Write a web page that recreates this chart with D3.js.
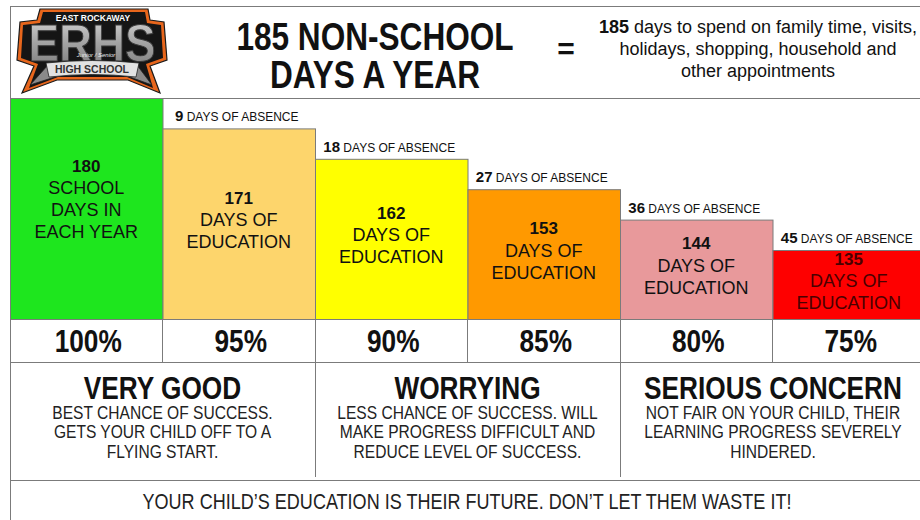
<!DOCTYPE html>
<html>
<head>
<meta charset="utf-8">
<script src="https://cdn.jsdelivr.net/npm/d3@7/dist/d3.min.js"></script>
<style>
  html, body { margin: 0; padding: 0; background: #fff; }
  svg { display: block; }
  .reg { font-family: "Liberation Sans", Arial, sans-serif; }
</style>
</head>
<body>
<svg id="chart" width="920" height="520"></svg>
<script>
// ---------- DATA ----------
const barKeys      = ["b100", "b95", "b90", "b85", "b80", "b75"];
const educationDays = [180, 171, 162, 153, 144, 135];
const absenceDays   = [0, 9, 18, 27, 36, 45];
const attendance    = ["100%", "95%", "90%", "85%", "80%", "75%"];
const barColors     = ["#1ee61e", "#fdd56c", "#ffff00", "#ff9900", "#e8999b", "#fe0000"];
const barTextColors = ["#111", "#111", "#111", "#111", "#111", "#4a0000"];
const firstBarLines = ["SCHOOL", "DAYS IN", "EACH YEAR"];
const otherBarLines = ["DAYS OF", "EDUCATION"];
const categories    = ["VERY GOOD", "WORRYING", "SERIOUS CONCERN"];
const categoryDescriptions = [
  ["BEST CHANCE OF SUCCESS.", "GETS YOUR CHILD OFF TO A", "FLYING START."],
  ["LESS CHANCE OF SUCCESS.  WILL", "MAKE PROGRESS DIFFICULT AND", "REDUCE LEVEL OF SUCCESS."],
  ["NOT FAIR ON YOUR CHILD, THEIR", "LEARNING PROGRESS SEVERELY", "HINDERED."]
];
const titleLines   = ["185 NON-SCHOOL", "DAYS A YEAR"];
const nonSchoolDays = 185;
const sideTextLines = [" days to spend on family time, visits,", "holidays, shopping, household and", "other appointments"];
const footerText   = "YOUR CHILD\u2019S EDUCATION IS THEIR FUTURE.  DON\u2019T LET THEM WASTE IT!";

// ---------- LAYOUT ----------
const svg = d3.select("#chart");
const W = 920, H = 520;
const frameLeft = 10, frameTop = 6, headerBottom = 98;
const barBottom = 319, pctBottom = 362, catBottom = 480;
const lineColor = "#7b7b7b";

// condensed look: compress glyphs horizontally around the text's anchor x
function narrowText(sel, f) {
  sel.each(function() {
    const xx = +this.getAttribute("x") || 0;
    this.setAttribute("transform", `translate(${xx},0) scale(${f || 0.82},1) translate(${-xx},0)`);
  });
}

const x = d3.scaleBand().domain(barKeys).range([frameLeft, 925]).paddingInner(0).paddingOuter(0);
const y = d3.scaleLinear().domain([180, 135]).range([headerBottom, 250]);

const bars = barKeys.map((k, i) => ({
  key: k, edu: educationDays[i], abs: absenceDays[i], pct: attendance[i],
  color: barColors[i], tcolor: barTextColors[i], i
}));

// ---------- BARS ----------
svg.append("g").selectAll("rect").data(bars).join("rect")
  .attr("x", d => x(d.key) + 0.5)
  .attr("y", d => y(d.edu) + 0.5)
  .attr("width", x.bandwidth())
  .attr("height", d => barBottom - y(d.edu))
  .attr("fill", d => d.color)
  .attr("stroke", lineColor)
  .attr("stroke-width", 1);

// bar text
const barText = svg.append("g").selectAll("text").data(bars).join("text")
  .attr("class", "reg")
  .attr("text-anchor", "middle")
  .attr("fill", d => d.tcolor);
barText.each(function(d) {
  const lines = d.i === 0 ? firstBarLines : otherBarLines;
  const n = lines.length + 1;
  const lh = 22;
  const cx = x(d.key) + x.bandwidth() / 2;
  const cy = (y(d.edu) + barBottom) / 2 - (d.i === 0 ? 10 : 4);
  const y0 = cy - (n - 1) * lh / 2;
  const t = d3.select(this);
  t.append("tspan").attr("x", cx).attr("y", y0 + 6).attr("font-weight", "bold").attr("font-size", 17).text(d.edu);
  lines.forEach((l, j) => {
    t.append("tspan").attr("x", cx).attr("y", y0 + (j + 1) * lh + 6.5).attr("font-size", 18).text(l);
  });
});

// absence labels
const absText = svg.append("g").selectAll("text").data(bars.filter(d => d.abs > 0)).join("text")
  .attr("class", "reg")
  .attr("text-anchor", "middle")
  .attr("fill", "#111")
  .attr("x", d => x(d.key) + x.bandwidth() / 2 - 2)
  .attr("y", d => y(d.edu) - 7);
absText.append("tspan").attr("font-weight", "bold").attr("font-size", 15).text(d => d.abs);
absText.append("tspan").attr("font-size", 12).text(" DAYS OF ABSENCE");

// ---------- PERCENT ROW ----------
const grid = svg.append("g").attr("stroke", lineColor).attr("stroke-width", 1).attr("shape-rendering", "crispEdges");
grid.append("line").attr("x1", frameLeft).attr("x2", W).attr("y1", pctBottom).attr("y2", pctBottom);
grid.selectAll(".pv").data(barKeys.slice(1)).join("line")
  .attr("x1", d => x(d)).attr("x2", d => x(d)).attr("y1", barBottom).attr("y2", pctBottom);

svg.append("g").selectAll("text").data(bars).join("text")
  .attr("class", "reg")
  .attr("text-anchor", "middle")
  .attr("font-weight", "bold")
  .attr("font-size", 32)
  .attr("fill", "#111")
  .attr("x", d => x(d.key) + x.bandwidth() / 2 + 2)
  .attr("y", barBottom + 33)
  .text(d => d.pct)
  .call(narrowText, 0.82);

// ---------- CATEGORY ROW ----------
const catX = categories.map((c, i) => ({
  name: c, desc: categoryDescriptions[i],
  x0: x(barKeys[i * 2]),
  x1: i === 2 ? 926 : x(barKeys[i * 2 + 1]) + x.bandwidth()
}));
grid.selectAll(".cv").data(catX.slice(1)).join("line")
  .attr("x1", d => d.x0).attr("x2", d => d.x0).attr("y1", pctBottom).attr("y2", catBottom - 3);
grid.append("line").attr("x1", frameLeft).attr("x2", W).attr("y1", catBottom).attr("y2", catBottom);

const catG = svg.append("g").selectAll("g").data(catX).join("g");
catG.append("text")
  .attr("class", "reg").attr("text-anchor", "middle").attr("font-weight", "bold")
  .attr("font-size", 32).attr("fill", "#111")
  .attr("x", d => (d.x0 + d.x1) / 2).attr("y", 399)
  .text(d => d.name)
  .call(narrowText, 0.82);
catG.each(function(d) {
  d3.select(this).selectAll(".desc").data(d.desc).join("text")
    .attr("class", "reg").attr("text-anchor", "middle")
    .attr("font-size", 19).attr("fill", "#222")
    .attr("x", (d.x0 + d.x1) / 2)
    .attr("y", (l, j) => 419 + j * 19.5)
    .text(l => l)
    .call(narrowText, 0.82);
});

// footer
svg.append("text").attr("class", "reg").attr("text-anchor", "middle")
  .attr("font-size", 22).attr("fill", "#222")
  .attr("x", 467).attr("y", 509).text(footerText)
  .call(narrowText, 0.82);

// ---------- FRAME ----------
grid.append("line").attr("x1", frameLeft).attr("x2", W).attr("y1", frameTop).attr("y2", frameTop);
grid.append("line").attr("x1", frameLeft).attr("x2", W).attr("y1", headerBottom).attr("y2", headerBottom);
grid.append("line").attr("x1", frameLeft).attr("x2", frameLeft).attr("y1", frameTop).attr("y2", H);

// ---------- HEADER ----------
svg.append("g").selectAll("text").data(titleLines).join("text")
  .attr("class", "reg").attr("text-anchor", "middle").attr("font-weight", "bold")
  .attr("font-size", 39).attr("fill", "#111")
  .attr("x", 375).attr("y", (d, i) => 50 + i * 38)
  .text(d => d)
  .call(narrowText, 0.81);

svg.append("text").attr("class", "reg").attr("text-anchor", "middle").attr("font-weight", "bold")
  .attr("font-size", 30).attr("fill", "#111").attr("x", 566).attr("y", 59).text("=");

const side = svg.append("g").attr("class", "reg").attr("text-anchor", "middle").attr("fill", "#111").attr("font-size", 18);
sideTextLines.forEach((l, i) => {
  const t = side.append("text").attr("x", 758).attr("y", 33 + i * 22);
  if (i === 0) {
    t.append("tspan").attr("font-weight", "bold").text(nonSchoolDays);
  }
  t.append("tspan").text(l);
});

// ---------- LOGO ----------
const logo = svg.append("g");
logo.append("path")
  .attr("d", "M40,9 L148,9 L150,20 L164,22 L167,60 L150,66 L160,93 L128,80 L57,80 L22,93 L34,66 L17,60 L20,22 L37,20 Z")
  .attr("fill", "#e8661c").attr("stroke", "#1a1a1a").attr("stroke-width", 1.2);
logo.append("path")
  .attr("d", "M43,12 L145,12 L147,23 L161,25 L163,58 L146,64 L153,88 L127,77 L58,77 L29,88 L38,64 L21,58 L23,25 L40,23 Z")
  .attr("fill", "#151515");
const grad = svg.append("defs").append("linearGradient").attr("id", "lg").attr("x1", 0).attr("y1", 0).attr("x2", 0).attr("y2", 1);
grad.append("stop").attr("offset", 0).attr("stop-color", "#d8d8d8");
grad.append("stop").attr("offset", 0.5).attr("stop-color", "#a3a3a3");
grad.append("stop").attr("offset", 1).attr("stop-color", "#7a7a7a");
logo.append("text").attr("class", "reg").attr("text-anchor", "middle").attr("font-weight", "bold")
  .attr("font-size", 8.5).attr("fill", "#fff").attr("x", 93).attr("y", 20.5).text("EAST ROCKAWAY");
logo.append("text").attr("class", "reg").attr("text-anchor", "middle").attr("font-weight", "bold")
  .attr("font-size", 52).attr("fill", "url(#lg)").attr("stroke", "#3a3a3a").attr("stroke-width", 1)
  .attr("x", 92).attr("y", 61).text("ERHS")
  .call(narrowText, 0.88);
// ribbon tails
logo.append("path").attr("d", "M48,65 L30,85 L58,76 Z").attr("fill", "#8a8a8a").attr("stroke", "#222").attr("stroke-width", 0.8);
logo.append("path").attr("d", "M137,65 L152,85 L127,76 Z").attr("fill", "#8a8a8a").attr("stroke", "#222").attr("stroke-width", 0.8);
logo.append("path").attr("d", "M46,63 Q92,58 139,63 L136,77 Q92,72 49,77 Z")
  .attr("fill", "#e2e2e2").attr("stroke", "#222").attr("stroke-width", 0.8);
logo.append("text").attr("class", "reg").attr("text-anchor", "middle").attr("font-weight", "bold")
  .attr("font-size", 10.5).attr("fill", "#333").attr("x", 92).attr("y", 73).text("HIGH SCHOOL");
logo.append("text").attr("class", "reg").attr("text-anchor", "middle").attr("font-style", "italic")
  .attr("font-size", 6).attr("fill", "#eee").attr("x", 96).attr("y", 57).text("Junior / Senior");
</script>
</body>
</html>
